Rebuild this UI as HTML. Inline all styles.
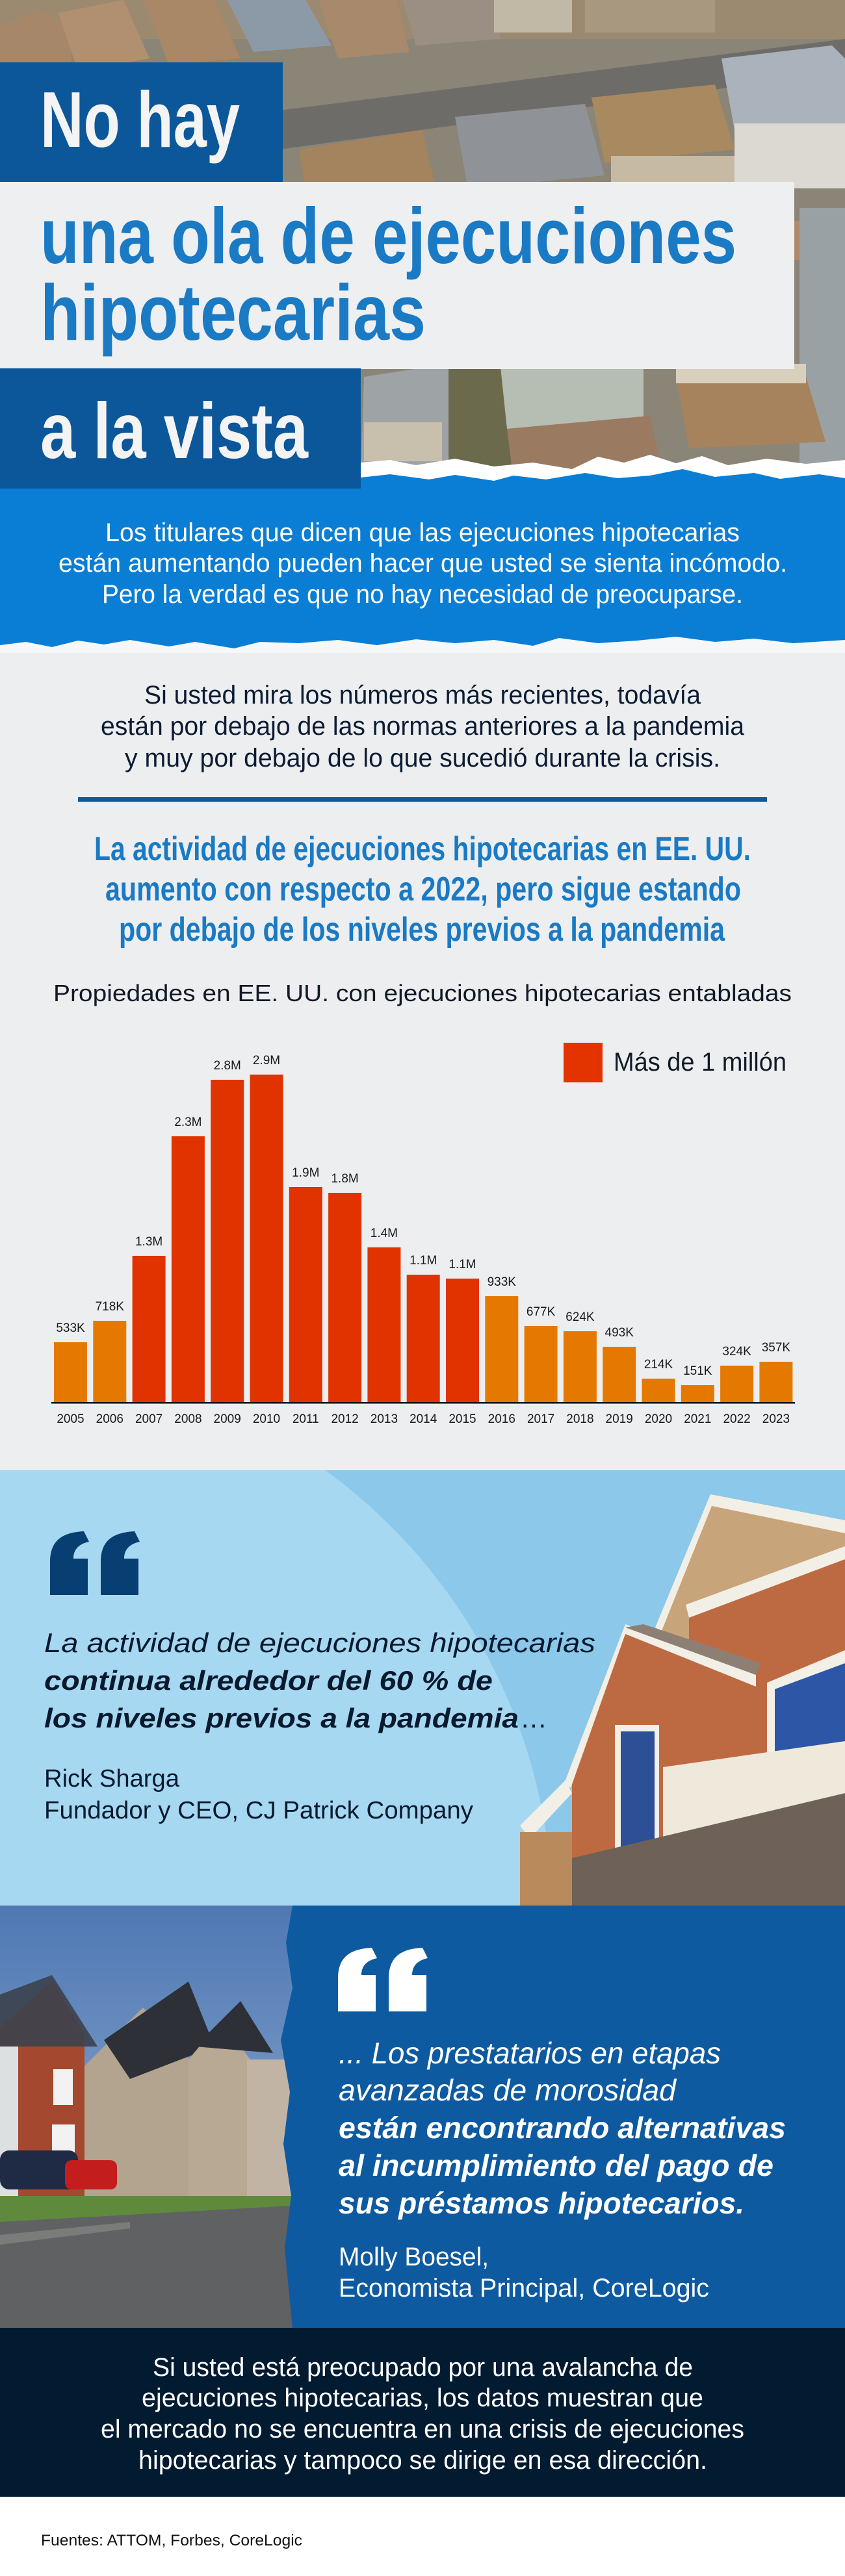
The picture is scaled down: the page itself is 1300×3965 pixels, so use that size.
<!DOCTYPE html>
<html><head><meta charset="utf-8"><style>
html,body{margin:0;padding:0;background:#eceef0}
svg{display:block}
.n{font-family:"Liberation Sans Narrow","Liberation Sans",sans-serif}
.s{font-family:"Liberation Sans",sans-serif}
</style></head><body>
<svg width="1300" height="3965" viewBox="0 0 1300 3965" xmlns="http://www.w3.org/2000/svg">
<defs>
<linearGradient id="sky" x1="0" y1="0" x2="0" y2="1"><stop offset="0" stop-color="#4f78b3"/><stop offset="1" stop-color="#9cb7d6"/></linearGradient>
<path id="qm" d="M0,98 L0,48 C0,18 14,2 52,0 L60,16 C42,20 36,30 36,42 L58,42 L58,98 Z"/>
</defs>
<rect x="0" y="0" width="1300" height="3965" fill="#eceef0"/>

<!-- aerial photo -->
<rect x="0" y="0" width="1300" height="740" fill="#8b8577"/>
<g>
<rect x="0" y="0" width="1300" height="60" fill="#9c8a70"/>
<polygon points="0,40 60,15 110,40 110,100 0,100" fill="#a7876a"/>
<polygon points="90,20 190,0 230,90 120,110" fill="#b09070"/>
<polygon points="220,0 330,0 370,90 260,100" fill="#a88866"/>
<polygon points="350,0 470,0 510,70 390,80" fill="#8c9aa8"/>
<polygon points="490,0 610,0 630,80 520,90" fill="#a8896b"/>
<polygon points="620,0 760,0 770,60 640,70" fill="#9b8f84"/>
<rect x="760" y="0" width="120" height="50" fill="#c2b8a6"/>
<rect x="900" y="0" width="200" height="50" fill="#a99880"/>
<polygon points="430,170 1300,60 1300,110 430,230" fill="#6e6c68"/>
<polygon points="460,230 650,200 680,330 480,350" fill="#a4835f"/>
<polygon points="700,180 900,160 930,270 720,290" fill="#8f9397"/>
<rect x="720" y="280" width="210" height="80" fill="#c9c4b4"/>
<polygon points="910,150 1100,130 1130,230 930,250" fill="#a98960"/>
<rect x="940" y="240" width="190" height="90" fill="#c7baa4"/>
<polygon points="1110,90 1280,70 1300,90 1300,190 1130,200" fill="#aab2bc"/>
<rect x="1130" y="190" width="170" height="100" fill="#dcd9d3"/>
<rect x="460" y="340" width="220" height="80" fill="#b5b8a8"/>
<rect x="780" y="360" width="220" height="50" fill="#a98768"/>
<rect x="1000" y="340" width="240" height="60" fill="#b0886a"/>
<rect x="1230" y="320" width="70" height="420" fill="#9aa1a5"/>
<polygon points="555,740 560,580 690,560 690,740" fill="#9ea4a6"/>
<rect x="560" y="650" width="120" height="60" fill="#c8c0ad"/>
<polygon points="690,560 800,560 800,720 690,720" fill="#6b6a4d"/>
<polygon points="770,565 990,565 990,660 780,660" fill="#b6bdb2"/>
<polygon points="780,660 1000,640 1020,730 790,740" fill="#9a7a60"/>
<polygon points="1040,580 1240,580 1270,680 1060,690" fill="#a6835c"/>
<rect x="1040" y="560" width="200" height="30" fill="#d8d0bd"/>
</g>
<rect x="0" y="96" width="435" height="185" fill="#0b579a"/>
<text x="62" y="226" class="n" font-weight="bold" font-size="122" fill="#f4f4f4" textLength="307" lengthAdjust="spacingAndGlyphs">No hay</text>
<rect x="0" y="280" width="1222" height="288" fill="#eeeff0"/>
<text x="62" y="405" class="n" font-weight="bold" font-size="122" fill="#1a7ac4" textLength="1071" lengthAdjust="spacingAndGlyphs">una ola de ejecuciones</text>
<text x="62" y="523" class="n" font-weight="bold" font-size="122" fill="#1a7ac4" textLength="593" lengthAdjust="spacingAndGlyphs">hipotecarias</text>
<rect x="0" y="567" width="555" height="185" fill="#0b579a"/>
<text x="62" y="705" class="n" font-weight="bold" font-size="122" fill="#f4f4f4" textLength="412" lengthAdjust="spacingAndGlyphs">a la vista</text>

<polygon points="555,712 600,708 640,716 700,706 760,718 820,712 880,722 920,703 960,712 1000,700 1040,713 1080,702 1120,716 1180,706 1240,714 1300,708 1300,760 555,760" fill="#ffffff"/>
<polygon points="555,752 555,735 600,730 660,738 700,731 760,740 790,732 840,738 900,728 950,736 1000,732 1050,722 1100,734 1160,728 1200,737 1260,730 1300,736 1300,1000 0,1000 0,752" fill="#0a7ed5"/>
<text x="162" y="833" class="n" font-size="40" fill="#ffffff" textLength="976" lengthAdjust="spacingAndGlyphs">Los titulares que dicen que las ejecuciones hipotecarias</text>
<text x="90" y="880" class="n" font-size="40" fill="#ffffff" textLength="1121" lengthAdjust="spacingAndGlyphs">están aumentando pueden hacer que usted se sienta incómodo.</text>
<text x="157" y="928" class="n" font-size="40" fill="#ffffff" textLength="986" lengthAdjust="spacingAndGlyphs">Pero la verdad es que no hay necesidad de preocuparse.</text>
<polygon points="0,1000 0,993 40,988 80,996 120,986 160,992 200,985 260,995 300,988 360,998 400,988 460,990 520,985 580,993 640,984 700,990 760,985 820,994 860,982 920,990 980,986 1040,980 1100,988 1160,983 1220,990 1300,985 1300,1030 0,1030" fill="#f6f7f8"/>
<rect x="0" y="1005" width="1300" height="1260" fill="#eceef0"/>

<text x="222" y="1083" class="n" font-size="40" fill="#0c1c33" textLength="856" lengthAdjust="spacingAndGlyphs">Si usted mira los números más recientes, todavía</text>
<text x="155" y="1131" class="n" font-size="40" fill="#0c1c33" textLength="990" lengthAdjust="spacingAndGlyphs">están por debajo de las normas anteriores a la pandemia</text>
<text x="192" y="1180" class="n" font-size="40" fill="#0c1c33" textLength="916" lengthAdjust="spacingAndGlyphs">y muy por debajo de lo que sucedió durante la crisis.</text>
<rect x="120" y="1227" width="1060" height="7" fill="#0b5ba0"/>

<text x="145" y="1324" class="n" font-weight="bold" font-size="52" fill="#1a7ac4" textLength="1010" lengthAdjust="spacingAndGlyphs">La actividad de ejecuciones hipotecarias en EE. UU.</text>
<text x="162" y="1386" class="n" font-weight="bold" font-size="52" fill="#1a7ac4" textLength="978" lengthAdjust="spacingAndGlyphs">aumento con respecto a 2022, pero sigue estando</text>
<text x="183" y="1448" class="n" font-weight="bold" font-size="52" fill="#1a7ac4" textLength="932" lengthAdjust="spacingAndGlyphs">por debajo de los niveles previos a la pandemia</text>

<text x="82" y="1541" class="s" font-size="36" fill="#111a26" textLength="1136" lengthAdjust="spacingAndGlyphs">Propiedades en EE. UU. con ejecuciones hipotecarias entabladas</text>

<rect x="867" y="1605" width="60" height="61" fill="#e33400"/>
<text x="944" y="1648" class="n" font-size="40" fill="#111a26" textLength="266" lengthAdjust="spacingAndGlyphs">Más de 1 millón</text>

<g class="s" font-size="19" fill="#1a1a1a" text-anchor="middle">
<rect x="83" y="2066" width="51" height="93" fill="#e57900"/><text x="108.5" y="2050">533K</text>
<rect x="143.3" y="2033" width="51" height="126" fill="#e57900"/><text x="168.8" y="2017">718K</text>
<rect x="203.6" y="1933" width="51" height="226" fill="#e03300"/><text x="229.1" y="1917">1.3M</text>
<rect x="263.9" y="1749" width="51" height="410" fill="#e03300"/><text x="289.4" y="1733">2.3M</text>
<rect x="324.2" y="1662" width="51" height="497" fill="#e03300"/><text x="349.7" y="1646">2.8M</text>
<rect x="384.5" y="1654" width="51" height="505" fill="#e03300"/><text x="410" y="1638">2.9M</text>
<rect x="444.8" y="1827" width="51" height="332" fill="#e03300"/><text x="470.3" y="1811">1.9M</text>
<rect x="505.1" y="1836" width="51" height="323" fill="#e03300"/><text x="530.6" y="1820">1.8M</text>
<rect x="565.4" y="1920" width="51" height="239" fill="#e03300"/><text x="590.9" y="1904">1.4M</text>
<rect x="625.7" y="1962" width="51" height="197" fill="#e03300"/><text x="651.2" y="1946">1.1M</text>
<rect x="686" y="1968" width="51" height="191" fill="#e03300"/><text x="711.5" y="1952">1.1M</text>
<rect x="746.3" y="1995" width="51" height="164" fill="#e57900"/><text x="771.8" y="1979">933K</text>
<rect x="806.6" y="2041" width="51" height="118" fill="#e57900"/><text x="832.1" y="2025">677K</text>
<rect x="866.9" y="2049" width="51" height="110" fill="#e57900"/><text x="892.4" y="2033">624K</text>
<rect x="927.2" y="2073" width="51" height="86" fill="#e57900"/><text x="952.7" y="2057">493K</text>
<rect x="987.5" y="2122" width="51" height="37" fill="#e57900"/><text x="1013" y="2106">214K</text>
<rect x="1047.8" y="2132" width="51" height="27" fill="#e57900"/><text x="1073.3" y="2116">151K</text>
<rect x="1108.1" y="2102" width="51" height="57" fill="#e57900"/><text x="1133.6" y="2086">324K</text>
<rect x="1168.4" y="2096" width="51" height="63" fill="#e57900"/><text x="1193.9" y="2080">357K</text>
</g>
<rect x="79" y="2158" width="1144" height="2.5" fill="#111"/>
<g class="s" font-size="19" fill="#1a1a1a" text-anchor="middle">
<text x="108.5" y="2190">2005</text><text x="168.8" y="2190">2006</text><text x="229.1" y="2190">2007</text><text x="289.4" y="2190">2008</text><text x="349.7" y="2190">2009</text><text x="410" y="2190">2010</text><text x="470.3" y="2190">2011</text><text x="530.6" y="2190">2012</text><text x="590.9" y="2190">2013</text><text x="651.2" y="2190">2014</text><text x="711.5" y="2190">2015</text><text x="771.8" y="2190">2016</text><text x="832.1" y="2190">2017</text><text x="892.4" y="2190">2018</text><text x="952.7" y="2190">2019</text><text x="1013" y="2190">2020</text><text x="1073.3" y="2190">2021</text><text x="1133.6" y="2190">2022</text><text x="1193.9" y="2190">2023</text>
</g>

<!-- quote 1 section -->
<rect x="0" y="2263" width="1300" height="671" fill="#8bc8ea"/>
<clipPath id="c1"><rect x="0" y="2263" width="1300" height="671"/></clipPath>
<circle cx="0" cy="2950" r="850" fill="#a6d8f2" clip-path="url(#c1)"/>
<g clip-path="url(#c1)">
<polygon points="1093,2307 1013,2507 1013,2934 1300,2934 1300,2347" fill="#c8a47a"/>
<polygon points="1093,2300 1300,2340 1300,2360 1095,2318 1018,2510 1008,2505" fill="#f2efe6"/>
<polygon points="1060,2480 1300,2390 1300,2934 1060,2934" fill="#bd6a43"/>
<polygon points="1055,2470 1300,2380 1300,2400 1060,2490" fill="#f2efe6"/>
<polygon points="962,2505 880,2745 880,2934 1160,2934 1160,2585" fill="#bd6a43"/>
<polygon points="962,2500 1163,2578 1163,2596 962,2515 878,2752 868,2745" fill="#f2efe6"/>
<polygon points="962,2505 1163,2578 1170,2560 990,2500" fill="#8d7f74"/>
<rect x="946" y="2655" width="68" height="200" fill="#f2efe6"/>
<rect x="955" y="2665" width="52" height="180" fill="#2c4f96"/>
<polygon points="1180,2590 1300,2540 1300,2770 1180,2810" fill="#f2efe6"/>
<polygon points="1192,2600 1300,2560 1300,2700 1192,2745" fill="#2d57a6"/>
<polygon points="1020,2720 1300,2680 1300,2800 1020,2830" fill="#efe9dc"/>
<polygon points="880,2860 1300,2760 1300,2934 880,2934" fill="#6e6158"/>
<polygon points="800,2810 870,2740 880,2760 815,2830" fill="#f2efe6"/>
<rect x="800" y="2820" width="80" height="114" fill="#b98a5c"/>
</g>
<use href="#qm" x="77" y="2357" fill="#083f73"/>
<use href="#qm" x="155" y="2357" fill="#083f73"/>
<text x="68" y="2543" class="s" font-style="italic" font-size="42" fill="#0a1a2e" textLength="848" lengthAdjust="spacingAndGlyphs">La actividad de ejecuciones hipotecarias</text>
<text x="68" y="2601" class="s" font-style="italic" font-weight="bold" font-size="42" fill="#0a1a2e" textLength="690" lengthAdjust="spacingAndGlyphs">continua alrededor del 60 % de</text>
<text x="68" y="2659" class="s" font-style="italic" font-weight="bold" font-size="42" fill="#0a1a2e" textLength="730" lengthAdjust="spacingAndGlyphs">los niveles previos a la pandemia</text>
<text x="800" y="2659" class="s" font-size="42" fill="#0a1a2e">…</text>
<text x="68" y="2750" class="n" font-size="38" fill="#0a1a2e" textLength="208" lengthAdjust="spacingAndGlyphs">Rick Sharga</text>
<text x="68" y="2799" class="n" font-size="38" fill="#0a1a2e" textLength="660" lengthAdjust="spacingAndGlyphs">Fundador y CEO, CJ Patrick Company</text>

<!-- quote 2 section -->
<rect x="0" y="2933" width="1300" height="651" fill="#0e5aa0"/>
<rect x="0" y="2933" width="450" height="651" fill="url(#sky)"/>
<polygon points="0,3120 80,3050 130,3130 130,3380 0,3380" fill="#a44a35"/>
<polygon points="0,3070 80,3040 150,3150 0,3150" fill="#3c414c" opacity="0.9"/>
<rect x="0" y="3150" width="130" height="230" fill="#a4482f"/>
<rect x="0" y="3150" width="28" height="230" fill="#dde0e0"/>
<rect x="82" y="3185" width="30" height="55" fill="#f2f2f2"/><rect x="80" y="3270" width="35" height="55" fill="#f2f2f2"/>
<polygon points="130,3180 220,3090 310,3190 310,3390 130,3390" fill="#b3a48f"/>
<polygon points="160,3140 290,3050 330,3150 200,3200" fill="#2e3038"/>
<polygon points="290,3170 340,3110 400,3190 400,3390 290,3390" fill="#b8a994"/>
<polygon points="300,3150 370,3080 420,3160" fill="#2e3038"/>
<rect x="380" y="3170" width="70" height="220" fill="#c1b4a4"/>
<rect x="0" y="3380" width="450" height="40" fill="#5f8a3c"/>
<rect x="0" y="3310" width="120" height="60" fill="#1f2a45" rx="14"/>
<rect x="100" y="3325" width="80" height="45" fill="#c41d1d" rx="10"/>
<polygon points="0,3420 450,3395 450,3584 0,3584" fill="#5f6163"/>
<polygon points="0,3440 200,3420 200,3430 0,3455" fill="#7a7c7a"/>
<polygon points="450,2933 440,2990 450,3060 432,3140 446,3220 436,3300 448,3380 438,3460 450,3584 460,3584 460,2933" fill="#0e5aa0"/>
<use href="#qm" x="520" y="2998" fill="#ffffff"/>
<use href="#qm" x="598" y="2998" fill="#ffffff"/>
<text x="521" y="3176" class="n" font-style="italic" font-size="46" fill="#ffffff" textLength="588" lengthAdjust="spacingAndGlyphs">... Los prestatarios en etapas</text>
<text x="521" y="3233" class="n" font-style="italic" font-size="46" fill="#ffffff" textLength="519" lengthAdjust="spacingAndGlyphs">avanzadas de morosidad</text>
<text x="521" y="3291" class="n" font-style="italic" font-weight="bold" font-size="46" fill="#ffffff" textLength="688" lengthAdjust="spacingAndGlyphs">están encontrando alternativas</text>
<text x="521" y="3349" class="n" font-style="italic" font-weight="bold" font-size="46" fill="#ffffff" textLength="669" lengthAdjust="spacingAndGlyphs">al incumplimiento del pago de</text>
<text x="521" y="3407" class="n" font-style="italic" font-weight="bold" font-size="46" fill="#ffffff" textLength="624" lengthAdjust="spacingAndGlyphs">sus préstamos hipotecarios.</text>
<text x="521" y="3487" class="n" font-size="40" fill="#ffffff" textLength="231" lengthAdjust="spacingAndGlyphs">Molly Boesel,</text>
<text x="521" y="3535" class="n" font-size="40" fill="#ffffff" textLength="570" lengthAdjust="spacingAndGlyphs">Economista Principal, CoreLogic</text>

<rect x="0" y="3583" width="1300" height="260" fill="#021b31"/>
<text x="235" y="3657" class="n" font-size="40" fill="#ffffff" textLength="831" lengthAdjust="spacingAndGlyphs">Si usted está preocupado por una avalancha de</text>
<text x="218" y="3704" class="n" font-size="40" fill="#ffffff" textLength="864" lengthAdjust="spacingAndGlyphs">ejecuciones hipotecarias, los datos muestran que</text>
<text x="155" y="3752" class="n" font-size="40" fill="#ffffff" textLength="990" lengthAdjust="spacingAndGlyphs">el mercado no se encuentra en una crisis de ejecuciones</text>
<text x="213" y="3800" class="n" font-size="40" fill="#ffffff" textLength="875" lengthAdjust="spacingAndGlyphs">hipotecarias y tampoco se dirige en esa dirección.</text>

<rect x="0" y="3843" width="1300" height="122" fill="#ffffff"/>
<text x="63" y="3918" class="s" font-size="24" fill="#111" textLength="402" lengthAdjust="spacingAndGlyphs">Fuentes: ATTOM, Forbes, CoreLogic</text>
</svg>
</body></html>
